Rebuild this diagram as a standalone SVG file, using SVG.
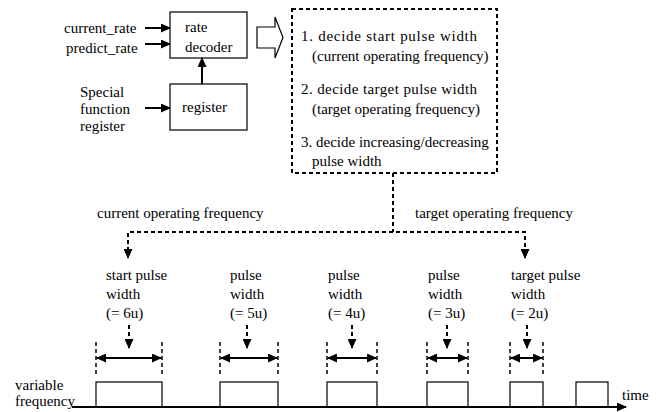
<svg xmlns="http://www.w3.org/2000/svg" width="657" height="412" viewBox="0 0 657 412">
<style>
text{font-family:"Liberation Serif","Times New Roman",serif;font-size:15px;fill:#000}
.box{fill:#fff;stroke:#000;stroke-width:1.2}
.dbox{fill:none;stroke:#000;stroke-width:2;stroke-dasharray:4 3}
.ar{stroke:#000;stroke-width:2;fill:none;marker-end:url(#ah)}
.dar{stroke:#000;stroke-width:2;fill:none;stroke-dasharray:4 3;marker-end:url(#ah)}
.dl{stroke:#000;stroke-width:2;fill:none;stroke-dasharray:4 3}
.edge{stroke:#000;stroke-width:1.5;fill:none;stroke-dasharray:4 3}
.dbl{stroke:#000;stroke-width:2;fill:none;marker-start:url(#ah);marker-end:url(#ah)}
.pulse{fill:#fff;stroke:#000;stroke-width:1.2}
</style>
<defs>
<marker id="ah" markerUnits="userSpaceOnUse" markerWidth="10" markerHeight="9" refX="9" refY="4.5" orient="auto-start-reverse">
<path d="M0,0 L10,4.5 L0,9 z" fill="#000"/>
</marker>
</defs>

<g id="inputs">
<text x="64" y="33">current_rate</text>
<text x="66" y="53">predict_rate</text>
<text x="80" y="97">Special</text>
<text x="80" y="114">function</text>
<text x="80" y="131">register</text>
</g>

<g id="rate-decoder">
<rect class="box" x="170" y="12" width="77" height="46"/>
<text x="185" y="32">rate</text>
<text x="185" y="52">decoder</text>
</g>

<g id="register">
<rect class="box" x="170" y="84" width="77" height="46"/>
<text x="182" y="112">register</text>
</g>

<g id="hollow-arrow">
<polygon points="257,27 275,27 275,17 283,37.5 275,58 275,48 257,48" fill="#fff" stroke="#000" stroke-width="1.2"/>
</g>

<g id="decision-box">
<rect class="dbox" x="292" y="9" width="205" height="164"/>
<text x="301" y="41" textLength="176" lengthAdjust="spacing">1. decide start pulse width</text>
<text x="312" y="61">(current operating frequency)</text>
<text x="301" y="94" textLength="176" lengthAdjust="spacing">2. decide target pulse width</text>
<text x="312" y="114">(target operating frequency)</text>
<text x="301" y="147">3. decide increasing/decreasing</text>
<text x="312" y="166">pulse width</text>
</g>

<g id="freq-labels">
<text x="97" y="218">current operating frequency</text>
<text x="415" y="218">target operating frequency</text>
</g>

<g id="pulse-labels">
<text x="106" y="280">start pulse</text>
<text x="106" y="299">width</text>
<text x="106" y="318">(= 6u)</text>
<text x="230" y="280">pulse</text>
<text x="230" y="299">width</text>
<text x="230" y="318">(= 5u)</text>
<text x="328" y="280">pulse</text>
<text x="328" y="299">width</text>
<text x="328" y="318">(= 4u)</text>
<text x="428" y="280">pulse</text>
<text x="428" y="299">width</text>
<text x="428" y="318">(= 3u)</text>
<text x="511" y="280">target pulse</text>
<text x="511" y="299">width</text>
<text x="511" y="318">(= 2u)</text>
</g>

<g id="pulses">
<rect class="pulse" x="96" y="382" width="66" height="25"/>
<rect class="pulse" x="220" y="382" width="58" height="25"/>
<rect class="pulse" x="327" y="382" width="50" height="25"/>
<rect class="pulse" x="427" y="382" width="41" height="25"/>
<rect class="pulse" x="510" y="382" width="33" height="25"/>
<rect class="pulse" x="576" y="382" width="32" height="25"/>
<text x="15" y="390">variable</text>
<text x="15" y="406">frequency</text>
<text x="622" y="400">time</text>
</g>

<g id="connectors">
<line class="ar" x1="145" y1="28" x2="170" y2="28"/>
<line class="ar" x1="145" y1="44" x2="170" y2="44"/>
<line class="ar" x1="145" y1="108" x2="170" y2="108"/>
<line class="ar" x1="202" y1="84" x2="202" y2="58"/>
<polyline class="dl" points="393,173 393,232"/>
<polyline class="dar" points="128,258 128,232 525,232 525,258"/>
<line class="dar" x1="128" y1="240" x2="128" y2="258"/>
<line class="dar" x1="129" y1="325" x2="129" y2="348"/>
<line class="dar" x1="247" y1="325" x2="247" y2="348"/>
<line class="dar" x1="352" y1="325" x2="352" y2="348"/>
<line class="dar" x1="447" y1="325" x2="447" y2="348"/>
<line class="dar" x1="527" y1="325" x2="527" y2="348"/>
<line class="edge" x1="96" y1="342" x2="96" y2="377"/>
<line class="edge" x1="162" y1="342" x2="162" y2="377"/>
<line class="edge" x1="220" y1="342" x2="220" y2="377"/>
<line class="edge" x1="278" y1="342" x2="278" y2="377"/>
<line class="edge" x1="327" y1="342" x2="327" y2="377"/>
<line class="edge" x1="377" y1="342" x2="377" y2="377"/>
<line class="edge" x1="427" y1="342" x2="427" y2="377"/>
<line class="edge" x1="468" y1="342" x2="468" y2="377"/>
<line class="edge" x1="510" y1="342" x2="510" y2="377"/>
<line class="edge" x1="543" y1="342" x2="543" y2="377"/>
<line class="dbl" x1="97" y1="358" x2="161" y2="358"/>
<line class="dbl" x1="221" y1="358" x2="277" y2="358"/>
<line class="dbl" x1="328" y1="358" x2="376" y2="358"/>
<line class="dbl" x1="428" y1="358" x2="467" y2="358"/>
<line class="dbl" x1="511" y1="358" x2="542" y2="358"/>
<line class="ar" x1="72" y1="407" x2="626" y2="407"/>
</g>
</svg>
